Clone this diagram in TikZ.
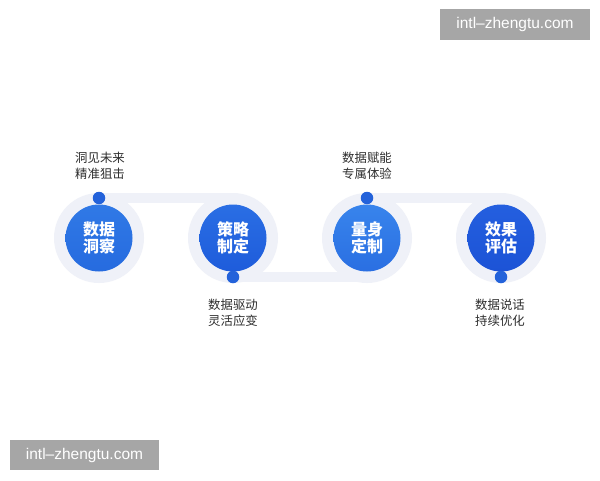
\documentclass[tikz,border=0pt]{standalone}
\usepackage{fontspec}
\newfontfamily\cjk{Noto Sans CJK SC}
\newfontfamily\wm{Liberation Sans}
\definecolor{ring}{HTML}{EFF1F8}
\definecolor{dotc}{HTML}{2362DA}
\definecolor{labc}{HTML}{2E2E2E}
\definecolor{wmgrey}{HTML}{A6A6A6}
\definecolor{oneA}{HTML}{3079E6}\definecolor{oneB}{HTML}{266BDF}
\definecolor{twoA}{HTML}{2A6EE4}\definecolor{twoB}{HTML}{1E5CDB}
\definecolor{thrA}{HTML}{3884EC}\definecolor{thrB}{HTML}{2A6FE2}
\definecolor{fouA}{HTML}{245FDF}\definecolor{fouB}{HTML}{1C53D6}
\tikzset{
  band/.style={fill=ring},
  ringc/.style={circle, fill=ring, minimum size=90pt, inner sep=0pt},
  core/.style={circle, minimum size=67pt, inner sep=0pt,
     text=white, font=\cjk\bfseries\fontsize{16}{17.5}\selectfont, align=center},
  dotn/.style={circle, fill=dotc, minimum size=12.5pt, inner sep=0pt},
  lab/.style={text=labc, font=\cjk\fontsize{12.4}{15.5}\selectfont, align=center, inner sep=0pt},
  wmtext/.style={text=white, font=\wm\fontsize{15.5}{18}\selectfont, inner sep=0pt}
}
\begin{document}
\begin{tikzpicture}[x=1pt,y=-1pt]
\useasboundingbox[fill=white] (0,0) rectangle (600,480);
% bands
\fill[band] (99,193) rectangle (233,203);
\fill[band] (233,272) rectangle (367,282);
\fill[band] (367,193) rectangle (501,203);
% rings
\node[ringc] (r1) at (99,238) {};
\node[ringc] (r2) at (233,238) {};
\node[ringc] (r3) at (367,238) {};
\node[ringc] (r4) at (501,238) {};
% cores
\node[core, top color=oneA, bottom color=oneB] (c1) at (99,238) {数据\\洞察};
\node[core, top color=twoA, bottom color=twoB] (c2) at (233,238) {策略\\制定};
\node[core, top color=thrA, bottom color=thrB] (c3) at (367,238) {量身\\定制};
\node[core, top color=fouA, bottom color=fouB] (c4) at (501,238) {效果\\评估};
% dots
\node[dotn] (d1) at (99,198) {};
\node[dotn] (d2) at (233,277) {};
\node[dotn] (d3) at (367,198) {};
\node[dotn] (d4) at (501,277) {};
% labels
\node[lab] (l1) at (100,166) {洞见未来\\精准狙击};
\node[lab] (l2) at (233,313) {数据驱动\\灵活应变};
\node[lab] (l3) at (367,166) {数据赋能\\专属体验};
\node[lab] (l4) at (500,313) {数据说话\\持续优化};
% watermarks
\fill[wmgrey] (440,9) rectangle (590,40);
\node[wmtext] (w1) at (515,24.5) {intl–zhengtu.com};
\fill[wmgrey] (10,440) rectangle (159,470);
\node[wmtext] (w2) at (84.5,455) {intl–zhengtu.com};
\end{tikzpicture}
\end{document}
